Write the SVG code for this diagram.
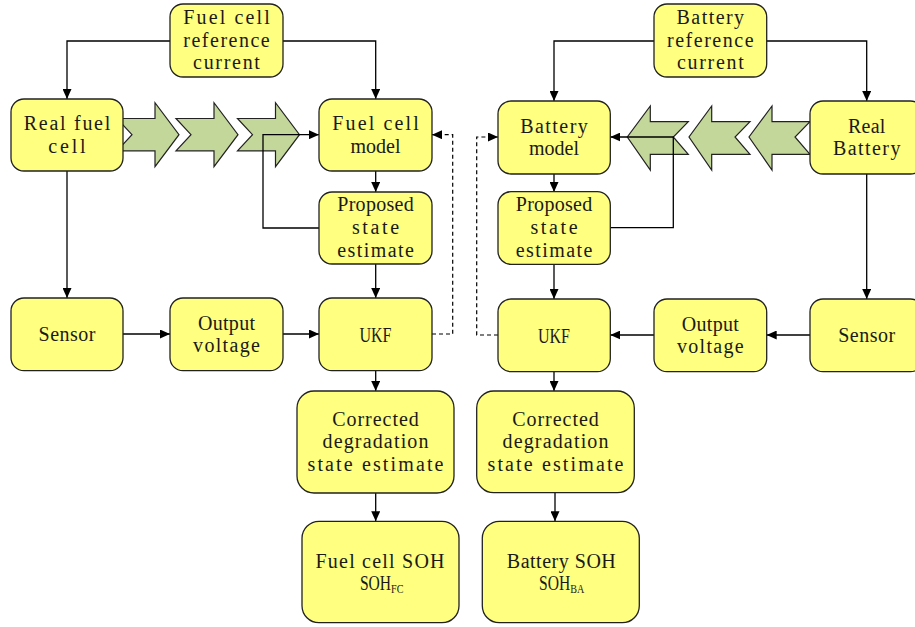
<svg xmlns="http://www.w3.org/2000/svg" width="915" height="627" viewBox="0 0 915 627">
<defs>
<marker id="ah" markerUnits="userSpaceOnUse" markerWidth="11" markerHeight="9" refX="10" refY="4.5" orient="auto">
<path d="M0,0 L10,4.5 L0,9 z" fill="#000"/>
</marker>
<style>
.box{fill:#FFFF80;stroke:#222;stroke-width:1.3}
.chev{fill:#C4D79B;stroke:#222;stroke-width:1.2}
.ln{fill:none;stroke:#000;stroke-width:1.3}
.dash{fill:none;stroke:#000;stroke-width:1.2;stroke-dasharray:4,3}
text{font-family:"Liberation Serif","Times New Roman",serif;font-size:20px;fill:#1a1a1a;text-anchor:middle}
</style>
</defs>
<rect width="915" height="627" fill="#fff"/>
<g id="flow-arrows">
<polygon class="chev" points="117,118.5 155,118.5 155,102.7 179,134.7 155,166.7 155,150.8 117,150.8 132,134.7"/>
<polygon class="chev" points="176,118.5 214,118.5 214,102.7 238,134.7 214,166.7 214,150.8 176,150.8 191,134.7"/>
<polygon class="chev" points="237.5,118.5 275.5,118.5 275.5,102.7 299.5,134.7 275.5,166.7 275.5,150.8 237.5,150.8 252.5,134.7"/>
<polygon class="chev" points="688.3,121.7 650.3,121.7 650.3,106 627.3,137 650.3,170 650.3,154.3 688.3,154.3 673.3,137"/>
<polygon class="chev" points="750,121.7 711.7,121.7 711.7,106 689,137 711.7,170 711.7,154.3 750,154.3 735,137"/>
<polygon class="chev" points="810,121.7 772,121.7 772,106 749,137 772,170 772,154.3 810,154.3 795,137"/>
</g>
<g id="connectors">
<polyline class="ln" points="170,41 67,41 67,99" marker-end="url(#ah)"/>
<polyline class="ln" points="283,41 375.7,41 375.7,99" marker-end="url(#ah)"/>
<line class="ln" x1="375.7" y1="171" x2="375.7" y2="192" marker-end="url(#ah)"/>
<polyline class="ln" points="319,228 263,228 263,134.7 319,134.7" marker-end="url(#ah)"/>
<line class="ln" x1="375.7" y1="264" x2="375.7" y2="298" marker-end="url(#ah)"/>
<line class="ln" x1="67" y1="171" x2="67" y2="298" marker-end="url(#ah)"/>
<line class="ln" x1="123" y1="334" x2="170" y2="334" marker-end="url(#ah)"/>
<line class="ln" x1="283" y1="334" x2="319" y2="334" marker-end="url(#ah)"/>
<line class="ln" x1="375.7" y1="371" x2="375.7" y2="391" marker-end="url(#ah)"/>
<line class="ln" x1="375.7" y1="493" x2="375.7" y2="521.3" marker-end="url(#ah)"/>
<polyline class="dash" points="432,334 452.7,334 452.7,134.7 432,134.7" marker-end="url(#ah)"/>
<polyline class="ln" points="654,41 554,41 554,101" marker-end="url(#ah)"/>
<polyline class="ln" points="766.7,41 866.7,41 866.7,101" marker-end="url(#ah)"/>
<line class="ln" x1="554" y1="174" x2="554" y2="192" marker-end="url(#ah)"/>
<polyline class="ln" points="610.3,227.7 673.3,227.7 673.3,137 610.3,137" marker-end="url(#ah)"/>
<line class="ln" x1="554" y1="264.3" x2="554" y2="299" marker-end="url(#ah)"/>
<line class="ln" x1="866.7" y1="174" x2="866.7" y2="299" marker-end="url(#ah)"/>
<line class="ln" x1="810" y1="335" x2="766.7" y2="335" marker-end="url(#ah)"/>
<line class="ln" x1="654" y1="335" x2="610.3" y2="335" marker-end="url(#ah)"/>
<polyline class="dash" points="498,335 476.7,335 476.7,137 498,137" marker-end="url(#ah)"/>
<line class="ln" x1="554" y1="371.7" x2="554" y2="391" marker-end="url(#ah)"/>
<line class="ln" x1="555" y1="493" x2="555" y2="521.3" marker-end="url(#ah)"/>
</g>
<g id="fc-ref">
<rect class="box" x="170" y="4" width="113" height="73" rx="13"/>
<text x="226.5" y="24" textLength="86.5" lengthAdjust="spacing">Fuel cell</text>
<text x="226.5" y="46.5" textLength="86.5" lengthAdjust="spacing">reference</text>
<text x="226.5" y="68.5" textLength="66.8" lengthAdjust="spacing">current</text>
</g>
<g id="fc-real">
<rect class="box" x="11" y="99" width="112" height="72" rx="13"/>
<text x="67" y="129.5" textLength="86.5" lengthAdjust="spacing">Real fuel</text>
<text x="67" y="152.5" textLength="37.3" lengthAdjust="spacing">cell</text>
</g>
<g id="fc-model">
<rect class="box" x="319" y="99" width="113" height="72" rx="13"/>
<text x="375.5" y="129.5" textLength="86.5" lengthAdjust="spacing">Fuel cell</text>
<text x="375.5" y="152.5">model</text>
</g>
<g id="fc-proposed">
<rect class="box" x="319" y="192" width="113" height="72" rx="13"/>
<text x="375.5" y="210.5" textLength="76.6" lengthAdjust="spacing">Proposed</text>
<text x="375.5" y="233.5" textLength="47.2" lengthAdjust="spacing">state</text>
<text x="375.5" y="256.5" textLength="76.6" lengthAdjust="spacing">estimate</text>
</g>
<g id="fc-sensor">
<rect class="box" x="11" y="298" width="112" height="72.7" rx="13"/>
<text x="67" y="341" textLength="57" lengthAdjust="spacing">Sensor</text>
</g>
<g id="fc-output">
<rect class="box" x="170" y="298" width="113" height="72.7" rx="13"/>
<text x="226.5" y="329.5" textLength="57" lengthAdjust="spacing">Output</text>
<text x="226.5" y="351.5" textLength="66.8" lengthAdjust="spacing">voltage</text>
</g>
<g id="fc-ukf">
<rect class="box" x="319" y="298" width="113" height="72.7" rx="13"/>
<text x="375.5" y="341.5" textLength="32" lengthAdjust="spacingAndGlyphs">UKF</text>
</g>
<g id="fc-corrected">
<rect class="box" x="297" y="391" width="157" height="102" rx="17"/>
<text x="375.5" y="425.5" textLength="86.5" lengthAdjust="spacing">Corrected</text>
<text x="375.5" y="447.5" textLength="106" lengthAdjust="spacing">degradation</text>
<text x="375.5" y="470.5" textLength="136" lengthAdjust="spacing">state estimate</text>
</g>
<g id="fc-soh">
<rect class="box" x="302" y="521.3" width="157" height="101.4" rx="17"/>
<text x="380" y="567.5" textLength="129" lengthAdjust="spacing">Fuel cell SOH</text>
<text transform="translate(381.7,589.5) scale(0.78,1)" x="0" y="0">SOH<tspan font-size="13" dy="3">FC</tspan></text>
</g>
<g id="ba-ref">
<rect class="box" x="654" y="4" width="112.7" height="73" rx="13"/>
<text x="710.3" y="24" textLength="67.5" lengthAdjust="spacing">Battery</text>
<text x="710.3" y="46.5" textLength="86.5" lengthAdjust="spacing">reference</text>
<text x="710.3" y="68.5" textLength="66.8" lengthAdjust="spacing">current</text>
</g>
<g id="ba-model">
<rect class="box" x="498" y="101" width="112.3" height="73" rx="13"/>
<text x="554" y="132.7" textLength="67.5" lengthAdjust="spacing">Battery</text>
<text x="554" y="155">model</text>
</g>
<g id="ba-real">
<rect class="box" x="810" y="101" width="113.4" height="73" rx="13"/>
<text x="866.7" y="132.7" textLength="37.3" lengthAdjust="spacing">Real</text>
<text x="866.7" y="155" textLength="67.5" lengthAdjust="spacing">Battery</text>
</g>
<g id="ba-proposed">
<rect class="box" x="498" y="191.7" width="112.3" height="72.6" rx="13"/>
<text x="554" y="210.5" textLength="76.6" lengthAdjust="spacing">Proposed</text>
<text x="554" y="233.5" textLength="47.2" lengthAdjust="spacing">state</text>
<text x="554" y="256.5" textLength="76.6" lengthAdjust="spacing">estimate</text>
</g>
<g id="ba-ukf">
<rect class="box" x="498" y="299" width="112.3" height="72.7" rx="13"/>
<text x="554" y="342.5" textLength="32" lengthAdjust="spacingAndGlyphs">UKF</text>
</g>
<g id="ba-output">
<rect class="box" x="654" y="299" width="112.7" height="72.7" rx="13"/>
<text x="710.3" y="330.5" textLength="57" lengthAdjust="spacing">Output</text>
<text x="710.3" y="352.5" textLength="66.8" lengthAdjust="spacing">voltage</text>
</g>
<g id="ba-sensor">
<rect class="box" x="810" y="299" width="113.4" height="72.7" rx="13"/>
<text x="866.7" y="342" textLength="57" lengthAdjust="spacing">Sensor</text>
</g>
<g id="ba-corrected">
<rect class="box" x="476.7" y="391" width="157.6" height="101.7" rx="17"/>
<text x="555.5" y="425.5" textLength="86.5" lengthAdjust="spacing">Corrected</text>
<text x="555.5" y="447.5" textLength="106" lengthAdjust="spacing">degradation</text>
<text x="555.5" y="470.5" textLength="136" lengthAdjust="spacing">state estimate</text>
</g>
<g id="ba-soh">
<rect class="box" x="482.3" y="521.3" width="157" height="101.4" rx="17"/>
<text x="561.3" y="567.5" textLength="109" lengthAdjust="spacing">Battery SOH</text>
<text transform="translate(561.7,589.5) scale(0.78,1)" x="0" y="0">SOH<tspan font-size="13" dy="3">BA</tspan></text>
</g>
</svg>
